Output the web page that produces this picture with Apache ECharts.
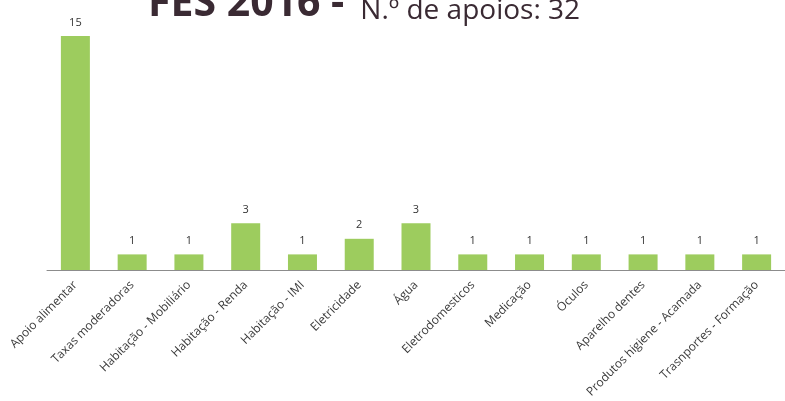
<!DOCTYPE html>
<html>
<head>
<meta charset="utf-8">
<script src="https://cdn.jsdelivr.net/npm/echarts@6/dist/echarts.min.js"></script>
<style>html,body{margin:0;padding:0;background:#fff;}#c{width:785px;height:401px;}</style>
</head>
<body>
<div id="c"></div>
<script>
const categories = ["Apoio alimentar","Taxas moderadoras","Habitação - Mobiliário","Habitação - Renda","Habitação - IMI","Eletricidade","Água","Eletrodomesticos","Medicação","Óculos","Aparelho dentes","Produtos higiene - Acamada","Trasnportes - Formação"];
const values = [15,1,1,3,1,2,3,1,1,1,1,1,1];
const titleBold = "FES 2016 -";
const titleRest = "N.º de apoios: 32";

const chart = echarts.init(document.getElementById('c'));
chart.setOption({
  animation: false,
  backgroundColor: '#ffffff',
  title: {
    text: '{b|' + titleBold + '}{r|' + titleRest + '}',
    left: 148,
    top: -21,
    padding: 0,
    textStyle: {
      rich: {
        b: { fontFamily: 'Open Sans', fontWeight: 'bold', fontSize: 41, color: '#3a2a33', verticalAlign: 'bottom', lineHeight: 46 },
        r: { fontFamily: 'Open Sans', fontWeight: 'normal', fontSize: 28, color: '#3a2a33', verticalAlign: 'bottom', lineHeight: 42, padding: [0, 0, 0, 16] }
      }
    }
  },
  grid: { left: 47, width: 746, top: 36, bottom: 131, containLabel: false },
  xAxis: {
    type: 'category',
    data: categories,
    axisTick: { show: false },
    axisLine: { lineStyle: { color: '#8c8c8c', width: 1 } },
    axisLabel: { interval: 0, rotate: 45, margin: 13, fontFamily: 'Open Sans', fontSize: 12, color: '#3a3a3a' }
  },
  yAxis: { type: 'value', min: 0, max: 15, show: false, splitLine: { show: false } },
  series: [{
    type: 'bar',
    data: values,
    barWidth: 29,
    itemStyle: { color: '#9dcc5e' },
    label: { show: true, position: 'top', distance: 8, fontFamily: 'Open Sans', fontSize: 11, color: '#333' }
  }]
});
</script>
</body>
</html>
